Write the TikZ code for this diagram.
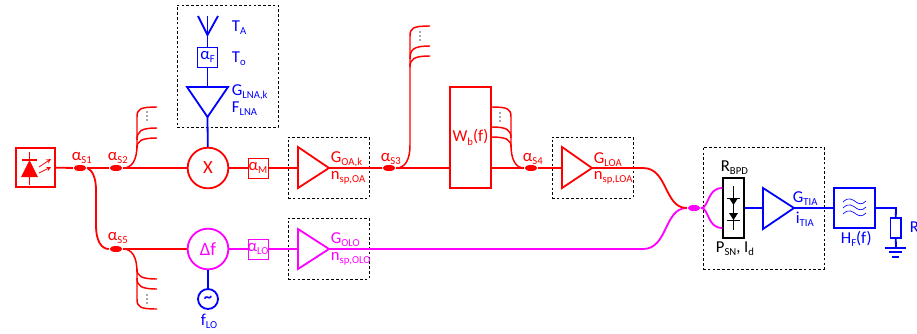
\documentclass[tikz,border=0pt]{standalone}
\usepackage{fontspec}
\setmainfont{Carlito}
\usetikzlibrary{shapes.geometric}
\definecolor{redline}{RGB}{255, 0, 0}
\definecolor{pinkline}{RGB}{255, 0, 255}
\definecolor{blueline}{RGB}{0, 0, 255}
\newcommand{\lowtxt}[1]{\raisebox{-2.6pt}{\fontsize{8}{9}\selectfont #1}}

\begin{document}
\begin{tikzpicture}[x=0.75pt, y=-0.75pt, line width=1.35pt, font=\fontsize{12.5}{14}\selectfont,
    dashbox/.style={draw=black, line width=0.6pt, dash pattern=on 2pt off 1.6pt},
    couplernode/.style={ellipse, fill=redline, draw=none, minimum width=9.5pt, minimum height=4.5pt, inner sep=0pt},
    roundnode/.style={circle, draw, fill=white, minimum size=30.5pt, inner sep=0pt},
    smallbox/.style={draw, line width=0.75pt, fill=white, minimum size=15pt, inner sep=0pt},
    bigbox/.style={draw, fill=white, inner sep=0pt},
    lbl/.style={anchor=base west, inner sep=0pt},
    moredots/.style={fill=black!70, draw=none, circle, minimum size=1.3pt, inner sep=0pt}]
    \useasboundingbox (0,0) rectangle (917,333);

    % Dashed groups
    \node[dashbox, minimum width=75.75pt, minimum height=91.5pt, inner sep=0pt] (lnagroup) at (227.5,66) {};
    \node[dashbox, minimum width=60.75pt, minimum height=45.75pt, inner sep=0pt] (oagroup) at (328.5,167.5) {};
    \node[dashbox, minimum width=60.75pt, minimum height=45.75pt, inner sep=0pt] (olgroup) at (328.5,248.5) {};
    \node[dashbox, minimum width=60.75pt, minimum height=45.75pt, inner sep=0pt] (loagroup) at (592.5,167.5) {};
    \node[dashbox, minimum width=90.75pt, minimum height=91.5pt, inner sep=0pt] (bpdgroup) at (763.5,208) {};

    % Laser source
    \node[bigbox, draw=redline, line width=1.5pt, minimum size=29.5pt] (laser) at (35.5,167.5) {};
    \draw[redline, line width=0.9pt] (29.5,152) -- (29.5,185);
    \draw[redline, line width=0.9pt] (22,160) -- (37,160);
    \fill[redline] (29.5,160) -- (38,177) -- (21,177) -- cycle;
    \draw[redline, line width=0.6pt, -stealth] (39,167) -- (51,159);
    \draw[redline, line width=0.6pt, -stealth] (39,173) -- (51,167);

    % Couplers and blocks
    \node[couplernode] (sone) at (80,168) {};
    \node[couplernode] (stwo) at (116,168) {};
    \node[couplernode] (sfive) at (116,249) {};
    \node[couplernode] (sthree) at (389,168) {};
    \node[couplernode] (sfour) at (531,168) {};
    \node[couplernode, fill=pinkline] (sout) at (694,208) {};
    \node[roundnode, draw=redline, text=redline] (mixer) at (208,168) {\fontsize{14}{16}\selectfont X};
    \node[roundnode, draw=pinkline, text=pinkline] (shift) at (208,249) {\fontsize{14}{16}\selectfont Δf};
    \node[smallbox, draw=redline, text=redline] (lossm) at (258,168) {\makebox[0pt]{α\lowtxt{M}}};
    \node[smallbox, draw=pinkline, text=pinkline] (losslo) at (258,249) {\makebox[0pt]{α\lowtxt{LO}}};
    \node[bigbox, draw=redline, text=redline, minimum width=30.5pt, minimum height=75.5pt] (wband) at (470.5,137.5) {W\lowtxt{b}(f)};
    \node[circle, draw=blueline, text=blueline, minimum size=15pt, inner sep=0pt] (osc) at (208,299) {\bfseries\textasciitilde};
    \node[smallbox, draw=blueline, text=blueline] (lossf) at (207.5,57) {\makebox[0pt]{α\lowtxt{F}}};
    \node[bigbox, draw=black, minimum width=15.5pt, minimum height=45pt] (bpd) at (733.5,208) {};
    \node[bigbox, draw=blueline, minimum width=30.5pt, minimum height=30pt] (filter) at (854.5,208) {};
    \node[bigbox, line width=1pt, draw=blueline, minimum width=8pt, minimum height=15pt] (load) at (895.5,228) {};

    % Amplifiers
    \coordinate (oain) at (298,168);
    \coordinate (oaout) at (329,168);
    \coordinate (olin) at (298,249);
    \coordinate (olout) at (329,249);
    \coordinate (loain) at (562,168);
    \coordinate (loaout) at (592,168);
    \coordinate (tiain) at (763,208);
    \coordinate (tiaout) at (794,208);
    \coordinate (lnain) at (207.5,87);
    \coordinate (lnaout) at (207.5,117);
    \draw[redline] (298,147) -- (oaout) -- (298,188) -- cycle;
    \draw[pinkline] (298,229) -- (olout) -- (298,269) -- cycle;
    \draw[redline] (562,147) -- (loaout) -- (562,188) -- cycle;
    \draw[blueline] (763,188) -- (tiaout) -- (763,229) -- cycle;
    \draw[blueline] (187,87) -- (228,87) -- (lnaout) -- cycle;

    % Antenna
    \coordinate (anttip) at (207.5,35);
    \draw[blueline] (198,16) -- (anttip) -- (218,16);
    \draw[blueline] (207.5,16) -- (anttip);
    \draw[blueline] (anttip) -- (lossf);
    \draw[blueline] (lossf) -- (lnain);
    \draw[blueline] (lnaout) -- (mixer);
    \draw[blueline] (osc) -- (shift);

    % Red fibre
    \draw[redline] (laser) -- (sone);
    \draw[redline] (sone) -- (stwo);
    \draw[redline] (stwo) -- (mixer);
    \draw[redline] (mixer) -- (lossm);
    \draw[redline] (lossm) -- (oain);
    \draw[redline] (oaout) -- (sthree);
    \draw[redline] (sthree) -- (wband.west |- sthree);
    \draw[redline] (wband.east |- sfour) -- (sfour);
    \draw[redline] (sfour) -- (loain);
    \draw[redline] (sone.east) .. controls (92,170) and (96,177) .. (96,190) -- (96,226) .. controls (96,240) and (101,249) .. (sfive.west);
    \draw[redline] (sfive) -- (shift);

    % Branches of the couplers
    \coordinate (twotop) at (157,107);
    \coordinate (twomid) at (157,128);
    \coordinate (twolow) at (157,138);
    \coordinate (fivetop) at (157,279);
    \coordinate (fivemid) at (157,289);
    \coordinate (fivelow) at (157,309);
    \coordinate (threetop) at (430,26);
    \coordinate (threemid) at (430,46);
    \coordinate (threelow) at (430,56);
    \draw[redline, line width=1.1pt] (stwo.east) .. controls (132,168) and (137,160) .. (137,145) -- (137,117) .. controls (137,109) and (140,107) .. (twotop);
    \draw[redline, line width=1.1pt] (137,140) .. controls (137,131) and (141,128) .. (twomid);
    \draw[redline, line width=1.1pt] (137,148) .. controls (137,141) and (141,138) .. (twolow);
    \draw[redline, line width=1.1pt] (sfive.east) .. controls (132,249) and (137,257) .. (137,272) -- (137,299) .. controls (137,307) and (140,309) .. (fivelow);
    \draw[redline, line width=1.1pt] (137,269) .. controls (137,276) and (141,279) .. (fivetop);
    \draw[redline, line width=1.1pt] (137,278) .. controls (137,286) and (141,289) .. (fivemid);
    \draw[redline, line width=1.1pt] (sthree.east) .. controls (405,168) and (410,160) .. (410,145) -- (410,36) .. controls (410,28) and (413,26) .. (threetop);
    \draw[redline, line width=1.1pt] (410,59) .. controls (410,49) and (414,46) .. (threemid);
    \draw[redline, line width=1.1pt] (410,67) .. controls (410,59) and (414,56) .. (threelow);
    \draw[redline, line width=1.1pt] (sfour.west) .. controls (516,168) and (511,160) .. (511,145) -- (511,117) .. controls (511,109) and (508,107) .. (wband.east |- 0,107);
    \draw[redline, line width=1.1pt] (511,138) .. controls (511,130) and (507,127) .. (wband.east |- 0,127);
    \draw[redline, line width=1.1pt] (511,147) .. controls (511,140) and (507,137) .. (wband.east |- 0,137);
    \foreach \dotx/\doty in {147/116, 147/299, 420/36, 500/117} {
        \foreach \off in {-4,0,4} {
            \node[moredots] at (\dotx,\doty+\off) {};
        }
    }

    % Pink fibre
    \draw[pinkline] (shift) -- (losslo);
    \draw[pinkline] (losslo) -- (olin);
    \draw[pinkline] (olout) -- (643,249) .. controls (668,249) and (664,208) .. (sout.west);
    \draw[pinkline] (sout.east) .. controls (709,208) and (707,188) .. (bpd.west |- 0,188);
    \draw[pinkline] (sout.east) .. controls (709,208) and (707,228) .. (bpd.west |- 0,228);
    \draw[redline] (loaout) -- (643,168) .. controls (668,168) and (664,208) .. (sout.west);

    % Balanced detector
    \draw[black, line width=0.7pt] (733.5,186) -- (733.5,230);
    \fill[black] (729,198) -- (738,198) -- (733.5,205) -- cycle;
    \fill[black] (729,213) -- (738,213) -- (733.5,220) -- cycle;
    \draw[black, line width=0.7pt] (727,198) -- (740,198);
    \draw[black, line width=0.7pt] (727,220) -- (740,220);

    % Receiver chain
    \draw[blueline] (bpd) -- (tiain);
    \draw[blueline] (tiaout) -- (filter);
    \coordinate (loadtop) at (896,208);
    \coordinate (gnd) at (896,248);
    \draw[blueline] (filter) -- (loadtop) -- (load);
    \draw[blueline] (load) -- (gnd);
    \draw[blueline] (885,248) -- (906,248);
    \draw[blueline] (889,252) -- (902,252);
    \draw[blueline] (892,257) -- (899,257);
    \foreach \wavey in {202,208,214} {
        \draw[blueline, line width=0.5pt] (843,\wavey) .. controls (849,\wavey-6) and (853,\wavey-2) .. (856,\wavey) .. controls (859,\wavey+2) and (862,\wavey+3) .. (866,\wavey-1);
    }

    % Labels
    \begin{scope}[text=redline]
        \node[lbl] (labelone) at (71,160) {α\lowtxt{S1}};
        \node[lbl] (labeltwo) at (107,160) {α\lowtxt{S2}};
        \node[lbl] (labelfive) at (107,240) {α\lowtxt{S5}};
        \node[lbl] (labelthree) at (380,161) {α\lowtxt{S3}};
        \node[lbl] (labelfour) at (522,161) {α\lowtxt{S4}};
        \node[lbl] (labeloag) at (330,162) {G\lowtxt{OA,k}};
        \node[lbl] (labeloan) at (330,179) {n\lowtxt{sp,OA}};
        \node[lbl] (labelloag) at (593,163) {G\lowtxt{LOA}};
        \node[lbl] (labelloan) at (593,179) {n\lowtxt{sp,LOA}};
    \end{scope}
    \begin{scope}[text=pinkline]
        \node[lbl] (labelolg) at (330,243) {G\lowtxt{OLO}};
        \node[lbl] (labeloln) at (330,260) {n\lowtxt{sp,OLO}};
    \end{scope}
    \begin{scope}[text=blueline]
        \node[lbl] (labelta) at (231,31) {T\lowtxt{A}};
        \node[lbl] (labelto) at (231,62) {T\lowtxt{o}};
        \node[lbl] (labellnag) at (231,95) {G\lowtxt{LNA,k}};
        \node[lbl] (labellnaf) at (231,112) {F\lowtxt{LNA}};
        \node[lbl] (labelflo) at (200,325) {f\lowtxt{LO}};
        \node[lbl] (labelgtia) at (792,202) {G\lowtxt{TIA}};
        \node[lbl] (labelitia) at (795,223) {i\lowtxt{TIA}};
        \node[lbl] (labelhf) at (840,243) {H\lowtxt{F}(f)};
        \node[lbl] (labelr) at (909,232) {R};
    \end{scope}
    \node[lbl] (labelrbpd) at (720,171) {R\lowtxt{BPD}};
    \node[lbl] (labelpsn) at (715,252) {P\lowtxt{SN}, I\lowtxt{d}};
\end{tikzpicture}
\end{document}
